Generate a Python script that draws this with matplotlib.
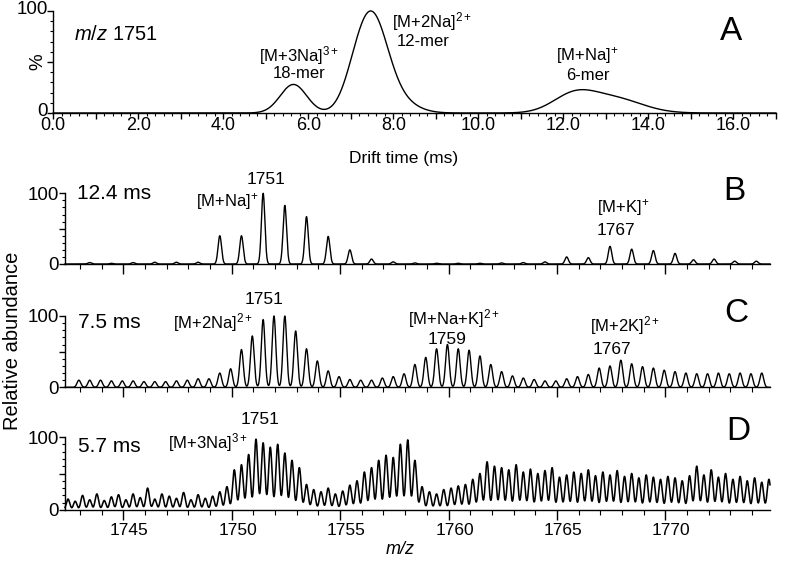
import numpy as np
import matplotlib
matplotlib.use("Agg")
import matplotlib.pyplot as plt
import matplotlib.transforms as mtransforms
from matplotlib.ticker import MultipleLocator, FixedLocator, NullFormatter, FixedFormatter, FormatStrFormatter

plt.rcParams['font.family'] = ['Liberation Sans', 'DejaVu Sans']
plt.rcParams['mathtext.fontset'] = 'custom'
plt.rcParams['mathtext.rm'] = 'Liberation Sans'
plt.rcParams['mathtext.it'] = 'Liberation Sans:italic'
plt.rcParams['mathtext.bf'] = 'Liberation Sans:bold'

W, H = 789, 565

# ---------------- Data ----------------
# Panel A: arrival time distribution, peak components (ms, %, ms)
drift_centers = [5.65, 7.10, 7.50, 8.00, 12.25, 13.20]
drift_heights = [28, 20, 84, 14, 17, 14]
drift_widths = [0.31, 0.30, 0.36, 0.45, 0.50, 0.65]
drift_tick_values = [0, 2, 4, 6, 8, 10, 12, 14, 16]
drift_tick_labels = ["0.0", "2.0", "4.0", "6.0", "8.0", "10.0", "12.0", "14.0", "16.0"]

# Panel B (12.4 ms): singly charged isotope peaks
B_mz = [1743.45, 1744.45, 1745.45, 1746.45, 1747.45, 1748.45, 1749.45, 1750.45,
        1751.45, 1752.45, 1753.45, 1754.45, 1755.45, 1756.45, 1757.45, 1758.45,
        1759.45, 1760.45, 1761.45, 1762.45, 1763.45, 1764.45, 1765.45, 1766.45,
        1767.45, 1768.45, 1769.45, 1770.45, 1771.30, 1772.25, 1773.20, 1774.20]
B_int = [2, 1, 2, 2.5, 2.5, 2.5, 40, 40,
         100, 83, 67, 39, 20, 7, 3, 1.5,
         1, 1, 1, 1.5, 2, 3, 10, 9,
         25, 21, 19, 15, 6, 7, 4, 4]

# Panel C (7.5 ms): doubly charged isotope peaks
C_mz = [1742.95, 1743.45, 1743.95, 1744.45, 1744.95, 1745.45, 1745.95, 1746.45,
        1746.95, 1747.45, 1747.95, 1748.45, 1748.95, 1749.45, 1749.95, 1750.45,
        1750.95, 1751.45, 1751.95, 1752.45, 1752.95, 1753.45, 1753.95, 1754.45,
        1754.95, 1755.45, 1755.95, 1756.45, 1756.95, 1757.45, 1757.95, 1758.45,
        1758.95, 1759.45, 1759.95, 1760.45, 1760.95, 1761.45, 1761.95, 1762.45,
        1762.95, 1763.45, 1763.95, 1764.45, 1764.95, 1765.45, 1765.95, 1766.45,
        1766.95, 1767.45, 1767.95, 1768.45, 1768.95, 1769.45, 1769.95, 1770.45,
        1770.95, 1771.45, 1771.95, 1772.45, 1772.95, 1773.45, 1773.95, 1774.45]
C_int = [10, 10, 10, 9, 9, 9, 8, 8,
         8, 9, 10, 12, 12, 20, 26, 53,
         72, 95, 100, 100, 79, 54, 37, 23,
         15, 11, 10, 10, 13, 15, 19, 32,
         42, 54, 60, 54, 52, 44, 32, 22,
         16, 13, 11, 9, 9, 12, 15, 18,
         27, 30, 38, 33, 29, 27, 24, 22,
         20, 19, 19, 20, 19, 20, 19, 20]

# Panel D (5.7 ms): triply charged isotope peaks
D_mz = [1742.45, 1742.78, 1743.12, 1743.45, 1743.78, 1744.12, 1744.45, 1744.78,
        1745.12, 1745.45, 1745.78, 1746.12, 1746.45, 1746.78, 1747.12, 1747.45,
        1747.78, 1748.12, 1748.45, 1748.78, 1749.12, 1749.45, 1749.78, 1750.12,
        1750.45, 1750.78, 1751.12, 1751.45, 1751.78, 1752.12, 1752.45, 1752.78,
        1753.12, 1753.45, 1753.78, 1754.12, 1754.45, 1754.78, 1755.12, 1755.45,
        1755.78, 1756.12, 1756.45, 1756.78, 1757.12, 1757.45, 1757.78, 1758.12,
        1758.45, 1758.78, 1759.12, 1759.45, 1759.78, 1760.12, 1760.45, 1760.78,
        1761.12, 1761.45, 1761.78, 1762.12, 1762.45, 1762.78, 1763.12, 1763.45,
        1763.78, 1764.12, 1764.45, 1764.78, 1765.12, 1765.45, 1765.78, 1766.12,
        1766.45, 1766.78, 1767.12, 1767.45, 1767.78, 1768.12, 1768.45, 1768.78,
        1769.12, 1769.45, 1769.78, 1770.12, 1770.45, 1770.78, 1771.12, 1771.45,
        1771.78, 1772.12, 1772.45, 1772.78, 1773.12, 1773.45, 1773.78, 1774.12,
        1774.45, 1774.78]
D_int = [15, 12, 20, 14, 22, 13, 18, 21,
         14, 22, 17, 30, 15, 22, 19, 16,
         24, 14, 21, 16, 19, 25, 32, 55,
         62, 76, 97, 92, 86, 90, 78, 68,
         58, 35, 28, 25, 30, 22, 26, 34,
         40, 52, 58, 68, 75, 72, 90, 96,
         68, 32, 25, 22, 28, 30, 33, 35,
         42, 50, 66, 60, 58, 55, 62, 52,
         56, 50, 54, 58, 45, 48, 52, 50,
         55, 47, 52, 48, 54, 46, 50, 44,
         48, 45, 42, 46, 44, 40, 47, 60,
         48, 55, 45, 50, 42, 46, 40, 44,
         38, 42]

MZ_MIN, MZ_MAX = 1742.31, 1774.83

fig = plt.figure(figsize=(W / 100, H / 100), dpi=100)


def ax_px(left, top, right, bottom):
    return fig.add_axes([left / W, 1 - bottom / H, (right - left) / W, (bottom - top) / H])


def ftext(x, y, s, size, ha='center', va='center', **kw):
    fig.text(x / W, 1 - y / H, s, fontsize=size, ha=ha, va=va, **kw)


def profile(x, centers, heights, width):
    y = np.zeros_like(x)
    for c, h in zip(centers, heights):
        y += h * np.exp(-(x - c) ** 2 / (2 * width ** 2))
    return y


# ---------------- Panel A ----------------
axA = ax_px(53.3, 11, 775.8, 113)
t = np.linspace(0, 17, 3000)
yA = np.zeros_like(t)
for c, h, s in zip(drift_centers, drift_heights, drift_widths):
    yA += h * np.exp(-(t - c) ** 2 / (2 * s ** 2))
axA.plot(t, yA, color='black', lw=1.0, clip_on=False)
axA.set_xlim(0, 17)
axA.set_ylim(0, 100)
for sp in ('top', 'right'):
    axA.spines[sp].set_visible(False)
axA.spines['left'].set_bounds(0, 100)
for sp in axA.spines.values():
    sp.set_linewidth(1.0)
axA.xaxis.set_major_locator(MultipleLocator(1))
axA.xaxis.set_minor_locator(MultipleLocator(0.2))
axA.xaxis.set_major_formatter(NullFormatter())
axA.yaxis.set_major_locator(FixedLocator([0, 50, 100]))
axA.yaxis.set_major_formatter(FixedFormatter(["0", "", "100"]))
axA.yaxis.set_minor_locator(MultipleLocator(10))
axA.tick_params(axis='x', which='major', length=4, width=1, direction='out')
axA.tick_params(axis='x', which='minor', length=2.2, width=0.8, direction='out')
axA.tick_params(axis='y', which='major', length=4, width=1, pad=0, labelsize=13.5)
axA.tick_params(axis='y', which='minor', length=2, width=0.8)
# lift the y tick labels slightly, like the reference
for lbl in axA.get_yticklabels():
    lbl.set_transform(lbl.get_transform() + mtransforms.ScaledTranslation(0, 0.04, fig.dpi_scale_trans))
lab_tr = axA.get_xaxis_transform() + mtransforms.ScaledTranslation(0, -0.125, fig.dpi_scale_trans)
for v, lab in zip(drift_tick_values, drift_tick_labels):
    axA.text(v, 0, lab, ha='center', va='center', fontsize=13, transform=lab_tr, clip_on=False)

ftext(404, 158, "Drift time (ms)", 12.5)
ftext(38, 62, "%", 13.5, rotation=90)
ftext(74, 35, r"$m/z$ 1751", 14.5, ha='left')
ftext(299, 56, r"[M+3Na]$^{3+}$", 12)
ftext(299, 74, "18-mer", 12)
ftext(392, 22, r"[M+2Na]$^{2+}$", 12, ha='left')
ftext(397, 41, "12-mer", 12, ha='left')
ftext(587, 55, r"[M+Na]$^{+}$", 12)
ftext(588, 75, "6-mer", 12)
ftext(731, 32, "A", 24)

# ---------------- Panels B, C, D ----------------
x = np.linspace(MZ_MIN, MZ_MAX, 6000)
panels = [
    (193.3, 264.0, profile(x, B_mz, B_int, 0.08), 1.0),
    (316.0, 387.3, profile(x, C_mz, C_int, 0.085), 1.0),
    (437.0, 510.0, profile(x, D_mz, D_int, 0.08), 1.15),
]
for i, (top, bottom, y, lw) in enumerate(panels):
    ax = ax_px(65, top, 770, bottom)
    ax.plot(x, y, color='black', lw=lw, clip_on=False)
    ax.set_xlim(MZ_MIN, MZ_MAX)
    ax.set_ylim(0, 100)
    for sp in ('top', 'right'):
        ax.spines[sp].set_visible(False)
    ax.spines['left'].set_bounds(0, 100)
    for sp in ax.spines.values():
        sp.set_linewidth(1.0)
    ax.xaxis.set_major_locator(MultipleLocator(5))
    ax.xaxis.set_minor_locator(MultipleLocator(1))
    ax.yaxis.set_major_locator(FixedLocator([0, 50, 100]))
    ax.yaxis.set_major_formatter(FixedFormatter(["0", "", "100"]))
    ax.yaxis.set_minor_locator(MultipleLocator(10))
    ax.tick_params(axis='x', which='major', length=7, width=1, direction='out', pad=2.5, labelsize=12.5)
    ax.tick_params(axis='x', which='minor', length=3.5, width=0.8, direction='out')
    ax.tick_params(axis='y', which='major', length=4, width=1, pad=0.5, labelsize=13.5)
    ax.tick_params(axis='y', which='minor', length=2, width=0.8)
    if i < 2:
        ax.xaxis.set_major_formatter(NullFormatter())
    else:
        ax.xaxis.set_major_formatter(FormatStrFormatter('%d'))
        shift = mtransforms.ScaledTranslation(0.06, 0, fig.dpi_scale_trans)
        for lbl in ax.get_xticklabels():
            lbl.set_transform(lbl.get_transform() + shift)

# Panel B texts
ftext(77, 193.5, "12.4 ms", 15, ha='left')
ftext(266, 179, "1751", 12.5)
ftext(258, 202, r"[M+Na]$^{+}$", 12, ha='right')
ftext(597, 208, r"[M+K]$^{+}$", 12, ha='left')
ftext(616, 231, "1767", 12.5)
ftext(734, 191, "B", 24)

# Panel C texts
ftext(78, 322, "7.5 ms", 15, ha='left')
ftext(264, 300, "1751", 12.5)
ftext(253, 323, r"[M+2Na]$^{2+}$", 12, ha='right')
ftext(454, 319, r"[M+Na+K]$^{2+}$", 12)
ftext(447, 339, "1759", 12.5)
ftext(590, 326, r"[M+2K]$^{2+}$", 12, ha='left')
ftext(612, 349, "1767", 12.5)
ftext(736, 313, "C", 24)

# Panel D texts
ftext(78, 446, "5.7 ms", 15, ha='left')
ftext(260, 420, "1751", 12.5)
ftext(248, 443, r"[M+3Na]$^{3+}$", 12, ha='right')
ftext(738, 431, "D", 24)

ftext(400, 550, "m/z", 13, style='italic')
ftext(13, 341, "Relative abundance", 14.5, rotation=90)

fig.savefig("out.png", dpi=100)
